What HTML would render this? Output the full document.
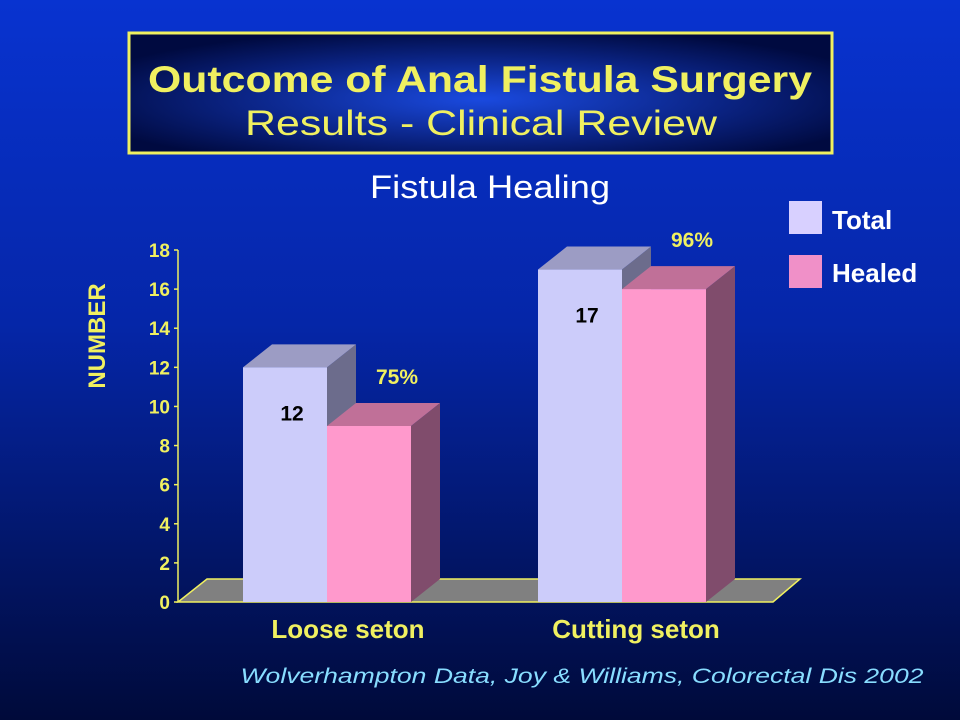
<!DOCTYPE html>
<html><head><meta charset="utf-8"><style>
html,body{margin:0;padding:0;width:960px;height:720px;overflow:hidden;background:#0a2cc8}
svg{display:block;font-family:"Liberation Sans",Arial,sans-serif}
</style></head><body>
<svg id="chart" width="960" height="720" viewBox="0 0 960 720">
<defs>
<linearGradient id="bg" x1="0" y1="0" x2="0" y2="1">
<stop offset="0" stop-color="#0833d0"/><stop offset="0.45" stop-color="#0526a8"/><stop offset="1" stop-color="#000a3a"/>
</linearGradient>
<radialGradient id="tb" cx="0.5" cy="0.55" r="0.6">
<stop offset="0" stop-color="#1a4ae0"/><stop offset="0.6" stop-color="#0a2280"/><stop offset="1" stop-color="#000a40"/>
</radialGradient>
</defs>
<rect x="0" y="0" width="960" height="720" fill="url(#bg)"/>
<g>
<rect x="129" y="33" width="703" height="120" fill="url(#tb)" stroke="#f0f060" stroke-width="3"/>
<text x="480" y="92" text-anchor="middle" font-size="37" font-weight="bold" fill="#f0f060" textLength="664" lengthAdjust="spacingAndGlyphs">Outcome of Anal Fistula Surgery</text>
<text x="481" y="135" text-anchor="middle" font-size="35" fill="#f0f060" textLength="472" lengthAdjust="spacingAndGlyphs">Results - Clinical Review</text>
</g>
<text x="490" y="198" text-anchor="middle" font-size="32" fill="#ffffff" textLength="240" lengthAdjust="spacingAndGlyphs">Fistula Healing</text>
<g>
<rect x="789" y="201" width="33" height="33" fill="#d8d0ff"/>
<text x="832" y="229" font-size="26" font-weight="bold" fill="#ffffff">Total</text>
<rect x="789" y="255" width="33" height="33" fill="#f090c8"/>
<text x="832" y="282" font-size="26" font-weight="bold" fill="#ffffff">Healed</text>
</g>
<text transform="translate(105,336) rotate(-90)" text-anchor="middle" font-size="24" font-weight="bold" fill="#f0f060">NUMBER</text>
<g id="plot"></g>
<text x="582" y="683" text-anchor="middle" font-size="21" font-style="italic" fill="#88ddff" textLength="683" lengthAdjust="spacingAndGlyphs">Wolverhampton Data, Joy &amp; Williams, Colorectal Dis 2002</text>
</svg>
<script>
const categories = ["Loose seton", "Cutting seton"];
const totalValues = [12, 17];
const healedValues = [9, 16];
const totalLabels = ["12", "17"];
const healedLabels = ["75%", "96%"];
const yTicks = [0, 2, 4, 6, 8, 10, 12, 14, 16, 18];

const NS = "http://www.w3.org/2000/svg";
const plot = document.getElementById("plot");
const y0 = 602, yTop = 250, yMax = 18, axisX = 178;
const dx = 29, dy = -23, barW = 84;
function y(v){ return y0 - (v / yMax) * (y0 - yTop); }
function xc(i){ return 327 + i * 295; }
function mk(tag, attrs){ const e = document.createElementNS(NS, tag); for (const k in attrs) e.setAttribute(k, attrs[k]); plot.appendChild(e); return e; }

// floor
const floor = mk("polygon", {points: `${axisX},${y0} ${773},${y0} ${773+dx-2},${y0+dy} ${axisX+dx},${y0+dy}`, fill: "#808080", stroke: "#f0f060", "stroke-width": 1.5});



// axis
const ax = mk("line", {x1: axisX, y1: y0, x2: axisX, y2: yTop, stroke: "#f0f060", "stroke-width": 1.5});


yTicks.forEach(t => {
  const tk = mk("line", {x1: axisX - 4, y1: y(t), x2: axisX, y2: y(t), stroke: "#f0f060", "stroke-width": 1.5});
  
  
  const lb = mk("text", {x: axisX - 8, y: y(t) + 7, "text-anchor": "end", "font-size": 19, "font-weight": "bold", fill: "#f0f060"});
  lb.textContent = String(t);
  
  
});

function bar3d(x, v, front, top, side, name){
  const yt = y(v);
  const s = mk("polygon", {points: `${x+barW},${y0} ${x+barW+dx},${y0+dy} ${x+barW+dx},${yt+dy} ${x+barW},${yt}`, fill: side});
  
  
  const t = mk("polygon", {points: `${x},${yt} ${x+dx},${yt+dy} ${x+barW+dx},${yt+dy} ${x+barW},${yt}`, fill: top});
  
  
  const f = mk("rect", {x: x, y: yt, width: barW, height: y0 - yt, fill: front});
  
  
}

categories.forEach((c, i) => {
  const cx = xc(i);
  bar3d(cx - barW, totalValues[i], "#ccccfa", "#9c9cc4", "#6c6c8c", "bar-total-" + i);
  bar3d(cx, healedValues[i], "#ff99cc", "#c07098", "#804c6c", "bar-healed-" + i);
  const tl = mk("text", {x: cx - 35, y: y(totalValues[i]) + 53, "text-anchor": "middle", "font-size": 21, "font-weight": "bold", fill: "#000000"});
  tl.textContent = totalLabels[i];
  
  
  const hl = mk("text", {x: cx + 70, y: y(healedValues[i]) - 42, "text-anchor": "middle", "font-size": 21, "font-weight": "bold", fill: "#f0f060"});
  hl.textContent = healedLabels[i];
  
  
  const cl = mk("text", {x: cx + 21 - 7 * i, y: 638, "text-anchor": "middle", "font-size": 26, "font-weight": "bold", fill: "#f0f060"});
  cl.textContent = c;
  
  
});
</script>
</body></html>
